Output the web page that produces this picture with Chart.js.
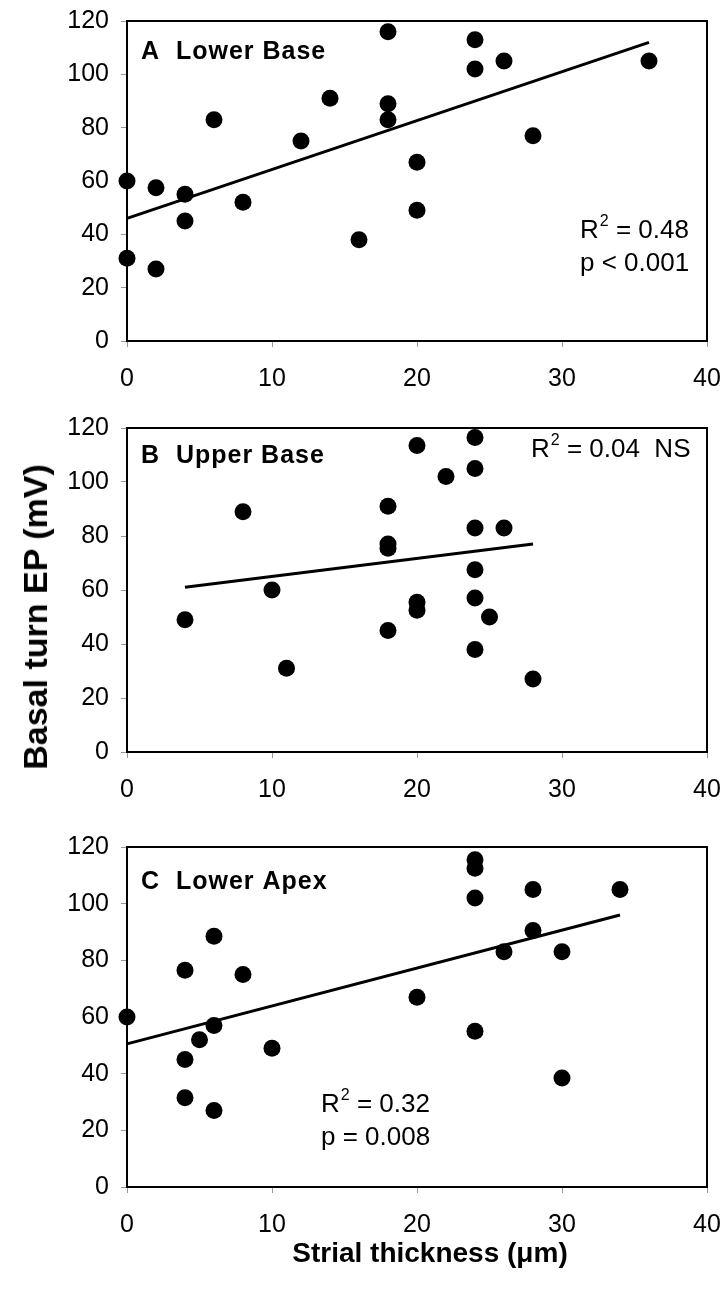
<!DOCTYPE html>
<html>
<head>
<meta charset="utf-8">
<script src="https://cdn.jsdelivr.net/npm/chart.js@4.4.1/dist/chart.umd.min.js"></script>
<style>
  body { margin: 0; background: #fff; }
  #wrap { position: relative; width: 724px; height: 1300px; font-family: "Liberation Sans", Arial, sans-serif; }
  canvas { position: absolute; left: 0; }
  .ytitle { position: absolute; left: 35px; top: 617px; transform: translate(-50%, -50%) rotate(-90deg);
            font-weight: bold; font-size: 34px; white-space: nowrap; line-height: 1; }
  .xtitle { position: absolute; left: 430px; top: 1253px; transform: translate(-50%, -50%);
            font-weight: bold; font-size: 28px; white-space: nowrap; line-height: 1; }
</style>
</head>
<body>
<div id="wrap">
  <canvas id="chartA" width="724" height="400" style="top:0px"></canvas>
  <canvas id="chartB" width="724" height="410" style="top:400px"></canvas>
  <canvas id="chartC" width="724" height="490" style="top:810px"></canvas>
  <div class="ytitle">Basal turn EP (mV)</div>
  <div class="xtitle">Strial thickness (&mu;m)</div>
</div>
<script>
// axis ticks
const xTicks = [0, 10, 20, 30, 40];
const yTicks = [0, 20, 40, 60, 80, 100, 120];

// A  Lower Base
const aX = [18, 24, 24, 26, 36, 14, 18, 18, 6, 12, 28, 20, 0, 2, 4, 8, 4, 20, 16, 0, 2];
const aY = [116, 113, 102, 105, 105, 91, 89, 83, 83, 75, 77, 67, 60, 57.5, 55, 52, 45, 49, 38, 31, 27];
const aTrendX = [0, 36];
const aTrendY = [46, 112];

// B  Upper Base
const bX = [20, 24, 24, 22, 8, 18, 18, 18, 24, 26, 24, 10, 20, 20, 24, 25, 4, 18, 24, 11, 28];
const bY = [113.5, 116.5, 105, 102, 89, 91, 77, 75.5, 83, 83, 67.5, 60, 55.5, 52.5, 57, 50, 49, 45, 38, 31, 27];
const bTrendX = [4, 28];
const bTrendY = [61, 77];

// C  Lower Apex
const cX = [24, 24, 24, 28, 34, 6, 4, 8, 28, 26, 30, 20, 0, 6, 24, 5, 4, 10, 4, 6, 30];
const cY = [115.5, 112.5, 102, 105, 105, 88.5, 76.5, 75, 90.5, 83, 83, 67, 60, 57, 55, 52, 45, 49, 31.5, 27, 38.5];
const cTrendX = [0, 34];
const cTrendY = [50.5, 96];

const FAMILY = '"Liberation Sans", Arial, sans-serif';
Chart.defaults.font.family = FAMILY;
Chart.defaults.color = '#000';

function toPoints(xs, ys) {
  return xs.map((x, i) => ({ x: x, y: ys[i] }));
}

// frame round the plot + panel texts
const notesPlugin = {
  id: 'notes',
  afterDraw(chart, args, opts) {
    const ctx = chart.ctx;
    const a = chart.chartArea;
    ctx.save();
    ctx.strokeStyle = '#000';
    ctx.lineWidth = 2;
    ctx.strokeRect(a.left, a.top, a.right - a.left, a.bottom - a.top);
    ctx.fillStyle = '#000';
    ctx.textBaseline = 'middle';
    ctx.textAlign = 'left';
    (opts.items || []).forEach(it => {
      let x = it.x;
      const main = (it.bold ? 'bold ' : '') + it.size + 'px ' + FAMILY;
      ctx.letterSpacing = (it.spacing || 0) + 'px';
      ctx.font = main;
      if (it.sup) {
        ctx.fillText(it.pre, x, it.y);
        x += ctx.measureText(it.pre).width + 1;
        ctx.font = Math.round(it.size * 0.62) + 'px ' + FAMILY;
        ctx.fillText(it.sup, x, it.y - it.size * 0.36);
        x += ctx.measureText(it.sup).width;
        ctx.font = main;
      }
      ctx.fillText(it.text, x, it.y);
    });
    ctx.restore();
  }
};

function makeChart(id, xs, ys, tx, ty, padTop, xHeight, notes) {
  return new Chart(document.getElementById(id), {
    type: 'scatter',
    data: {
      datasets: [
        {
          data: toPoints(xs, ys),
          backgroundColor: '#000',
          borderWidth: 0,
          pointRadius: 8.5,
          pointHoverRadius: 8.5,
          clip: false
        },
        {
          type: 'line',
          data: toPoints(tx, ty),
          borderColor: '#000',
          borderWidth: 3,
          pointRadius: 0,
          fill: false,
          clip: false
        }
      ]
    },
    options: {
      responsive: false,
      animation: false,
      layout: { padding: { top: padTop, right: 17, left: 0, bottom: 0 } },
      plugins: {
        legend: { display: false },
        tooltip: { enabled: false },
        notes: { items: notes }
      },
      scales: {
        x: {
          type: 'linear',
          min: 0, max: 40,
          afterBuildTicks: s => { s.ticks = xTicks.map(v => ({ value: v })); },
          ticks: { font: { size: 25 }, padding: 17, color: '#000' },
          grid: { drawOnChartArea: false, drawTicks: true, tickLength: 6, color: '#999' },
          border: { color: '#000', width: 2 },
          afterFit: s => { s.height = xHeight; s.paddingLeft = 0; s.paddingRight = 0; }
        },
        y: {
          min: 0, max: 120,
          afterBuildTicks: s => { s.ticks = yTicks.map(v => ({ value: v })); },
          ticks: { font: { size: 25 }, padding: 12, color: '#000' },
          grid: { drawOnChartArea: false, drawTicks: true, tickLength: 6, color: '#999' },
          border: { color: '#000', width: 2 },
          afterFit: s => { s.width = 127; s.paddingTop = 0; s.paddingBottom = 0; }
        }
      }
    },
    plugins: [notesPlugin]
  });
}

makeChart('chartA', aX, aY, aTrendX, aTrendY, 21, 59, [
  { text: 'A  Lower Base', x: 141, y: 52, size: 25, bold: true, spacing: 1 },
  { pre: 'R', sup: '2', text: ' = 0.48', x: 580, y: 231, size: 26 },
  { text: 'p < 0.001', x: 580, y: 264, size: 26 }
]);

makeChart('chartB', bX, bY, bTrendX, bTrendY, 28, 58, [
  { text: 'B  Upper Base', x: 141, y: 56, size: 25, bold: true, spacing: 1 },
  { pre: 'R', sup: '2', text: ' = 0.04  NS', x: 531, y: 50, size: 26 }
]);

makeChart('chartC', cX, cY, cTrendX, cTrendY, 37, 113, [
  { text: 'C  Lower Apex', x: 141, y: 72, size: 25, bold: true, spacing: 1 },
  { pre: 'R', sup: '2', text: ' = 0.32', x: 321, y: 295, size: 26 },
  { text: 'p = 0.008', x: 321, y: 328, size: 26 }
]);
</script>
</body>
</html>
